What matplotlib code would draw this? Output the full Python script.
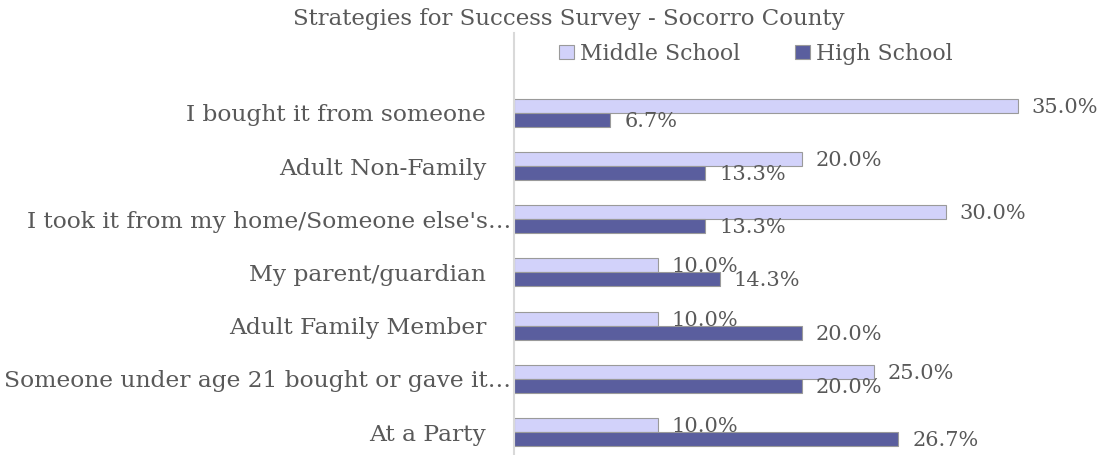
import matplotlib
matplotlib.use("Agg")
import matplotlib.pyplot as plt
import matplotlib.transforms as mtransforms
import numpy as np

# survey answers, listed bottom to top as they are drawn
sources = ["At a Party",
           "Someone under age 21 bought or gave it\u2026",
           "Adult Family Member",
           "My parent/guardian",
           "I took it from my home/Someone else's\u2026",
           "Adult Non-Family",
           "I bought it from someone"]
middle_school = [10.0, 25.0, 10.0, 10.0, 30.0, 20.0, 35.0]
high_school = [26.7, 20.0, 20.0, 14.3, 13.3, 13.3, 6.7]

light = "#d2d2fa"
dark = "#5a5e9e"
edge = "#9a9a9a"
txt = "#595959"

plt.rcParams["font.family"] = ["DejaVu Serif"]

fig = plt.figure(figsize=(10.99, 4.55), dpi=100)
ax = fig.add_axes([0.4677, -0.008, 0.524, 0.9355])

y = np.arange(len(sources))
h = 0.263
b1 = ax.barh(y + h / 2, middle_school, height=h, color=light,
             edgecolor=edge, linewidth=0.8, label="Middle School")
b2 = ax.barh(y - h / 2, high_school, height=h, color=dark,
             edgecolor=edge, linewidth=0.8, label="High School")

# value labels just past the end of each bar
for bars, vals in [(b1, middle_school), (b2, high_school)]:
    for bar, v in zip(bars, vals):
        ax.annotate(f"{v:.1f}%", (v, bar.get_y() + bar.get_height() / 2),
                    xytext=(10, -1), textcoords="offset points",
                    ha="left", va="center", fontsize=15, color=txt)

ax.set_xlim(0, 40)
ax.set_ylim(-0.5, 7.5)
ax.set_yticks(y)
ax.set_yticklabels(sources, fontsize=16.8, color=txt)
ax.tick_params(axis="y", length=0, pad=20)
# cut-off labels run right up to the axis
shift = mtransforms.ScaledTranslation(18 / 72, 0, fig.dpi_scale_trans)
for lab in ax.get_yticklabels():
    if lab.get_text().endswith("\u2026"):
        lab.set_transform(lab.get_transform() + shift)
ax.set_xticks([])
for s in ["top", "right", "bottom"]:
    ax.spines[s].set_visible(False)
ax.spines["left"].set_color("#d9d9d9")
ax.spines["left"].set_linewidth(1.5)

fig.text(0.518, 0.958, "Strategies for Success Survey - Socorro County",
         ha="center", va="center", fontsize=16.5, color=txt)

fig.legend(handles=[b1, b2], loc="center", bbox_to_anchor=(0.688, 0.882),
           ncol=2, frameon=False, fontsize=15.8, labelcolor=txt,
           handlelength=0.65, handleheight=0.65, handletextpad=0.3,
           columnspacing=2.5, borderpad=0)

fig.savefig("out.png", dpi=100)
